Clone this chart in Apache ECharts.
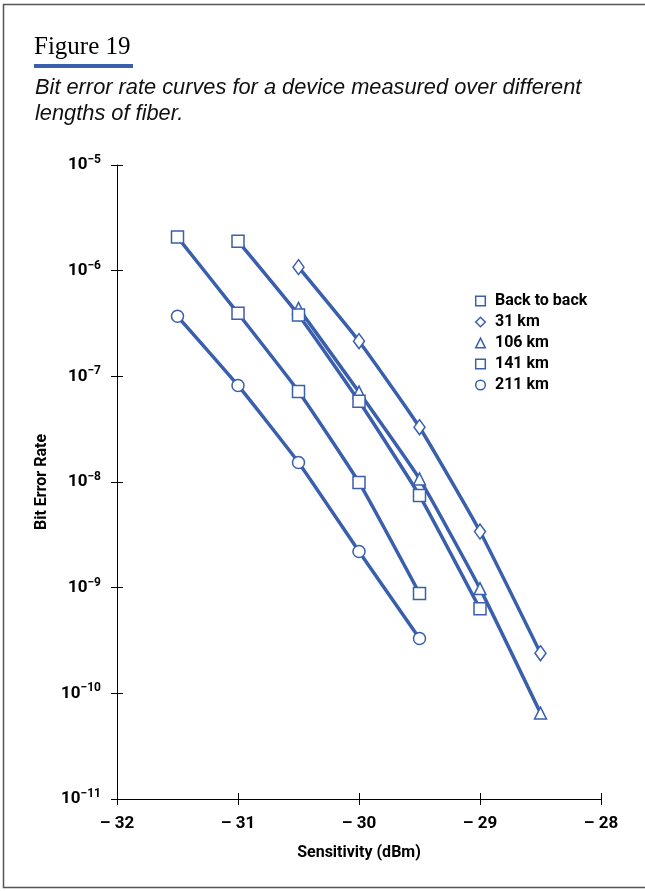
<!DOCTYPE html>
<html>
<head>
<meta charset="utf-8">
<script src="https://cdn.jsdelivr.net/npm/echarts@6/dist/echarts.min.js"></script>
<style>
  html, body { margin: 0; padding: 0; background: #fff; }
  #main { width: 645px; height: 891px; }
</style>
</head>
<body>
<div id="main"></div>
<script>
var sensitivity = [-31.5, -31, -30.5, -30, -29.5, -29, -28.5];
var backToBack = [[-31.5, 2.08e-6], [-31, 3.95e-7], [-30.5, 7.2e-8], [-30, 9.9e-9], [-29.5, 8.8e-10]];
var km31 = [[-30.5, 1.08e-6], [-30, 2.15e-7], [-29.5, 3.3e-8], [-29, 3.4e-9], [-28.5, 2.4e-10]];
var km106 = [[-30.5, 4.4e-7], [-30, 7.1e-8], [-29.5, 1.07e-8], [-29, 9.8e-10], [-28.5, 6.5e-11]];
var km141 = [[-31, 1.9e-6], [-30.5, 3.8e-7], [-30, 5.8e-8], [-29.5, 7.45e-9], [-29, 6.3e-10]];
var km211 = [[-31.5, 3.7e-7], [-31, 8.2e-8], [-30.5, 1.53e-8], [-30, 2.2e-9], [-29.5, 3.3e-10]];
var seriesNames = ['Back to back', '31 km', '106 km', '141 km', '211 km'];
var seriesSymbols = ['rect', 'diamond', 'triangle', 'rect', 'circle'];

var blue = '#3a5fad';
var font = "'Liberation Sans Narrow', 'Roboto', sans-serif";

var myChart = echarts.init(document.getElementById('main'));

function makeSeries(name, data, symbol) {
  return {
    name: name,
    type: 'line',
    data: data,
    smooth: 0.15,
    symbol: symbol,
    symbolSize: symbol == 'diamond' ? [11, 15] : 12,
    lineStyle: { color: blue, width: 3.5 },
    itemStyle: { color: '#fff', borderColor: blue, borderWidth: 1.5 },
    z: 3
  };
}

var allData = [backToBack, km31, km106, km141, km211];
var series = [];
for (var i = 0; i < seriesNames.length; i++) {
  series.push(makeSeries(seriesNames[i], allData[i], seriesSymbols[i]));
}

var option = {
  backgroundColor: '#fff',
  animation: false,
  title: {
    text: 'Figure 19',
    left: 34,
    top: 35,
    padding: 0,
    textStyle: { fontFamily: "'Liberation Serif', serif", fontWeight: 'normal', fontSize: 25, color: '#000' }
  },
  graphic: [
    { type: 'rect', shape: { x: 34, y: 64, width: 99, height: 4 }, style: { fill: blue } },
    { type: 'text', left: 35, top: 75, style: {
        text: 'Bit error rate curves for a device measured over different\nlengths of fiber.',
        fontFamily: "'Liberation Sans', sans-serif", fontStyle: 'italic', fontSize: 21.8, lineHeight: 26, fill: '#111'
      } },
    { type: 'polyline', shape: { points: [[645, 4.5], [3.5, 4.5], [3.5, 887.5], [645, 887.5]] },
      style: { stroke: '#555', lineWidth: 1.5, fill: null } }
  ],
  legend: {
    orient: 'vertical',
    left: 469,
    top: 288,
    itemWidth: 13,
    itemHeight: 12,
    itemGap: 5,
    data: seriesNames,
    itemStyle: { color: '#fff', borderColor: blue, borderWidth: 1.5 },
    lineStyle: { width: 0 },
    textStyle: { fontFamily: font, fontWeight: 'bold', fontSize: 16, color: '#000', padding: [0, 0, 0, 3] }
  },
  grid: { left: 117, right: 44, top: 165, bottom: 92 },
  xAxis: [{
    type: 'value',
    min: -32, max: -28, interval: 1,
    name: 'Sensitivity (dBm)',
    nameLocation: 'middle',
    nameGap: 46,
    nameTextStyle: { fontFamily: font, fontWeight: 'bold', fontSize: 16, color: '#000' },
    axisLine: { lineStyle: { color: '#000', width: 1 } },
    axisTick: { inside: false, length: 6, lineStyle: { color: '#000' } },
    axisLabel: {
      margin: 16,
      fontFamily: font, fontWeight: 'bold', fontSize: 17, color: '#000',
      formatter: function (v) { return '\u2013 ' + Math.abs(v); }
    },
    splitLine: { show: false }
  }, {
    type: 'value',
    position: 'bottom',
    min: -32, max: -28, interval: 1,
    axisLine: { show: false },
    axisTick: { inside: true, length: 6, lineStyle: { color: '#000' } },
    axisLabel: { show: false },
    splitLine: { show: false }
  }],
  yAxis: [{
    type: 'log',
    logBase: 10,
    min: 1e-11, max: 1e-5,
    name: 'Bit Error Rate',
    nameLocation: 'middle',
    nameGap: 66,
    nameTextStyle: { fontFamily: font, fontWeight: 'bold', fontSize: 16, color: '#000' },
    axisLine: { show: true, lineStyle: { color: '#000', width: 1 } },
    axisTick: { show: true, inside: false, length: 6, lineStyle: { color: '#000' } },
    axisLabel: {
      margin: 16,
      formatter: function (v) {
        return '{b|10}{s|\u2212' + Math.abs(Math.round(Math.log10(v))) + '}';
      },
      rich: {
        b: { fontFamily: font, fontWeight: 'bold', fontSize: 17, color: '#000' },
        s: { fontFamily: font, fontWeight: 'bold', fontSize: 12, color: '#000', verticalAlign: 'bottom', padding: [0, 0, 10, 0] }
      }
    },
    splitLine: { show: false }
  }, {
    type: 'log',
    logBase: 10,
    position: 'left',
    min: 1e-11, max: 1e-5,
    axisLine: { show: false },
    axisTick: { show: true, inside: true, length: 6, lineStyle: { color: '#000' } },
    axisLabel: { show: false },
    splitLine: { show: false }
  }],
  series: series
};

myChart.setOption(option);

window.addEventListener('resize', function(){
  myChart.resize()
})
</script>
</body>
</html>
